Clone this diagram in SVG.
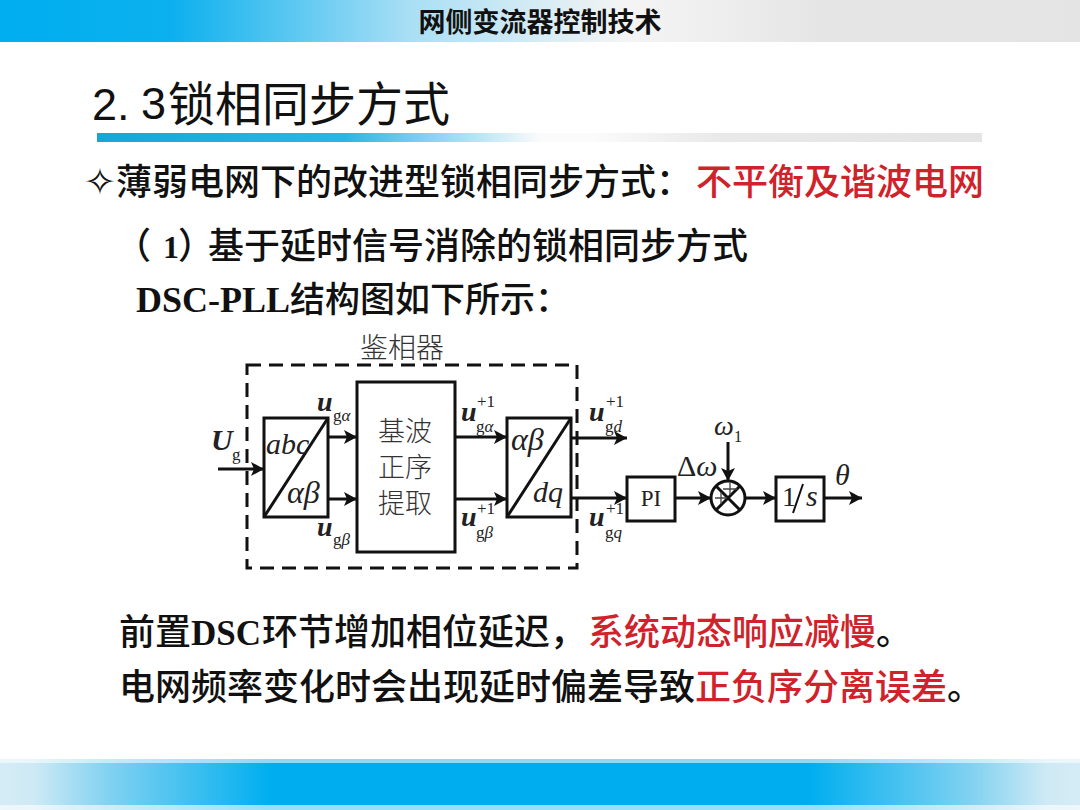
<svg xmlns="http://www.w3.org/2000/svg" width="1080" height="810" viewBox="0 0 1080 810">
<style>
.cn{font-family:"Noto Sans CJK SC","Liberation Sans",sans-serif;fill:#111;font-size:36px;font-weight:500}
.sm{font-family:"Noto Sans CJK SC",sans-serif;fill:#333;font-weight:300}
.ser{font-family:"Liberation Serif",serif;font-weight:700}
.red{fill:#d0222a}
.m{font-family:"Liberation Serif","DejaVu Serif",serif;fill:#222}
.i{font-style:italic}
.b{font-weight:700}
.u{font-size:28px}
.s{font-size:17px}
.box{fill:#fff;stroke:#111;stroke-width:3}
.ln{fill:none;stroke:#111;stroke-width:3}
</style>
<defs>
<linearGradient id="top" x1="0" x2="1" y1="0" y2="0"><stop offset="0" stop-color="#00aeef"/><stop offset=".16" stop-color="#0cb0ee"/><stop offset=".38" stop-color="#a9dff5"/><stop offset=".58" stop-color="#f4f4f4"/><stop offset=".64" stop-color="#f0f0f0"/><stop offset=".76" stop-color="#e5e5e5"/><stop offset="1" stop-color="#e4e4e4"/></linearGradient>
<linearGradient id="rule" x1="0" x2="1" y1="0" y2="0"><stop offset="0" stop-color="#18a5dc"/><stop offset=".28" stop-color="#2cb4e8"/><stop offset=".5" stop-color="#fbfbfb"/><stop offset=".56" stop-color="#fbfbfb"/><stop offset=".7" stop-color="#e9e9e9"/><stop offset="1" stop-color="#e4e4e4"/></linearGradient>
<linearGradient id="bot" x1="0" x2="1" y1="0" y2="0"><stop offset="0" stop-color="#d4ecf5"/><stop offset=".03" stop-color="#cfeaf5"/><stop offset=".1" stop-color="#82d2f1"/><stop offset=".25" stop-color="#00aeef"/><stop offset=".75" stop-color="#00aeef"/><stop offset=".9" stop-color="#82d2f1"/><stop offset=".97" stop-color="#cfeaf5"/><stop offset="1" stop-color="#d4ecf5"/></linearGradient>
<marker id="ah" markerUnits="userSpaceOnUse" markerWidth="14" markerHeight="14" refX="13" refY="7" orient="auto"><path d="M0 0L13 7L0 14L3 7Z" fill="#111"/></marker>
</defs>
<rect width="1080" height="810" fill="#fff"/>
<g id="header"><rect width="1080" height="42" fill="url(#top)"/>
<text class="cn" x="540" y="32" style="font-size:27px;font-weight:700" text-anchor="middle">网侧变流器控制技术</text></g>
<g id="title"><text x="92" y="120" style="font-family:'Liberation Sans',sans-serif;font-size:45px" fill="#111">2.</text><text x="141" y="119" style="font-family:'Liberation Sans',sans-serif;font-size:45px" fill="#111">3</text>
<text class="cn" x="168" y="121" style="font-size:47px;font-weight:400">锁相同步方式</text>
<rect x="97" y="133" width="885" height="9" fill="url(#rule)"/></g>
<g id="footer"><rect y="759" width="1080" height="51" fill="url(#bot)"/><rect y="759" width="1080" height="4" fill="#fff" opacity=".55"/><rect y="805" width="1080" height="5" fill="#fff" opacity=".6"/></g>
<g id="body">
<text x="84" y="195" style="font-family:'DejaVu Sans',sans-serif;font-size:38px;font-weight:700" fill="#111">✧</text>
<text class="cn" x="116" y="195">薄弱电网下的改进型锁相同步方式：</text><text class="cn red" x="696" y="195">不平衡及谐波电网</text>
<text class="cn" x="115" y="259">（</text><text class="ser" x="163" y="258" font-size="32" fill="#111">1</text><text class="cn" x="178" y="259" style="font-feature-settings:'halt'">）</text>
<text class="cn" x="208" y="259">基于延时信号消除的锁相同步方式</text>
<text class="ser" x="136" y="312" font-size="36" fill="#111">DSC-PLL</text><text class="cn" x="290" y="312" style="font-size:35px">结构图如下所示：</text>
<text class="cn" x="119" y="645">前置<tspan class="ser" style="font-size:35px">DSC</tspan></text><text class="cn" x="262" y="645">环节增加相位延迟，</text><text class="cn red" x="588" y="645">系统动态响应减慢</text><text class="cn" x="876" y="645">。</text>
<text class="cn" x="119" y="700">电网频率变化时会出现延时偏差导致<tspan class="red">正负序分离误差</tspan>。</text>
</g>
<g id="phase-detector"><rect x="247" y="365" width="330" height="203" fill="none" stroke="#111" stroke-width="3" stroke-dasharray="14 8"/>
<text class="sm" x="402" y="358" font-size="28" text-anchor="middle">鉴相器</text></g>
<g id="connectors">
<path class="ln" d="M218 469H264" marker-end="url(#ah)"/>
<path class="ln" d="M328 437H357" marker-end="url(#ah)"/>
<path class="ln" d="M328 499H357" marker-end="url(#ah)"/>
<path class="ln" d="M455 437H507" marker-end="url(#ah)"/>
<path class="ln" d="M455 499H507" marker-end="url(#ah)"/>
<path class="ln" d="M571 438H627" marker-end="url(#ah)"/>
<path class="ln" d="M571 498H627" marker-end="url(#ah)"/>
<path class="ln" d="M675 498H711" marker-end="url(#ah)"/>
<path class="ln" d="M728 442V481" marker-end="url(#ah)"/>
<path class="ln" d="M745 498H776" marker-end="url(#ah)"/>
<path class="ln" d="M824 498H862" marker-end="url(#ah)"/>
</g>
<g id="abc-ab"><rect class="box" x="264" y="418" width="64" height="99"/><path class="ln" d="M264 517L328 418"/>
<text class="m i" x="266" y="454" font-size="30">abc</text><text class="m i" x="287" y="503" font-size="32">αβ</text></g>
<g id="extract"><rect class="box" x="357" y="382" width="98" height="170"/>
<text class="sm" x="405" y="441" font-size="27" text-anchor="middle">基波</text><text class="sm" x="405" y="477" font-size="27" text-anchor="middle">正序</text><text class="sm" x="405" y="513" font-size="27" text-anchor="middle">提取</text></g>
<g id="ab-dq"><rect class="box" x="507" y="418" width="64" height="99"/><path class="ln" d="M507 517L571 418"/>
<text class="m i" x="511" y="450" font-size="32">αβ</text><text class="m i" x="533" y="502" font-size="30">dq</text></g>
<g id="pi"><rect class="box" x="627" y="477" width="48" height="44"/><text class="m" x="651" y="506" font-size="23" text-anchor="middle">PI</text></g>
<g id="sum"><circle class="box" cx="728" cy="498" r="17"/><path d="M716 486L740 510M740 486L716 510" stroke="#111" stroke-width="3"/><path d="M723 489H737M730 483V495M715 498H727M721 492V504" stroke="#444" stroke-width="1.3"/></g>
<g id="integrator"><rect class="box" x="776" y="477" width="48" height="44"/><text class="m" x="782" y="506" font-size="28">1</text><path d="M803 484L793 513" stroke="#111" stroke-width="2"/><text class="m i" x="806" y="506" font-size="30">s</text></g>
<g id="labels">
<text class="m i b" x="211" y="450" font-size="30">U</text><text class="m s" x="232" y="460">g</text>
<text class="m i b u" x="317" y="411">u</text><text class="m s" x="333" y="421">g<tspan class="i">α</tspan></text>
<text class="m i b u" x="317" y="536">u</text><text class="m s" x="333" y="545">g<tspan class="i">β</tspan></text>
<text class="m i b u" x="461" y="421">u</text><text class="m s" x="477" y="407">+1</text><text class="m s" x="476" y="432">g<tspan class="i">α</tspan></text>
<text class="m i b u" x="461" y="526">u</text><text class="m s" x="477" y="514">+1</text><text class="m s" x="476" y="538">g<tspan class="i">β</tspan></text>
<text class="m i b u" x="589" y="421">u</text><text class="m s" x="606" y="407">+1</text><text class="m s" x="605" y="432">g<tspan class="i">d</tspan></text>
<text class="m i b u" x="589" y="526">u</text><text class="m s" x="606" y="514">+1</text><text class="m s" x="605" y="538">g<tspan class="i">q</tspan></text>
<text class="m" x="677" y="476" font-size="30">Δ<tspan class="i">ω</tspan></text>
<text class="m i" x="714" y="435" font-size="28">ω</text><text class="m" x="734" y="442" font-size="16">1</text>
<text class="m i" x="835" y="485" font-size="30">θ</text>
</g>
</svg>
